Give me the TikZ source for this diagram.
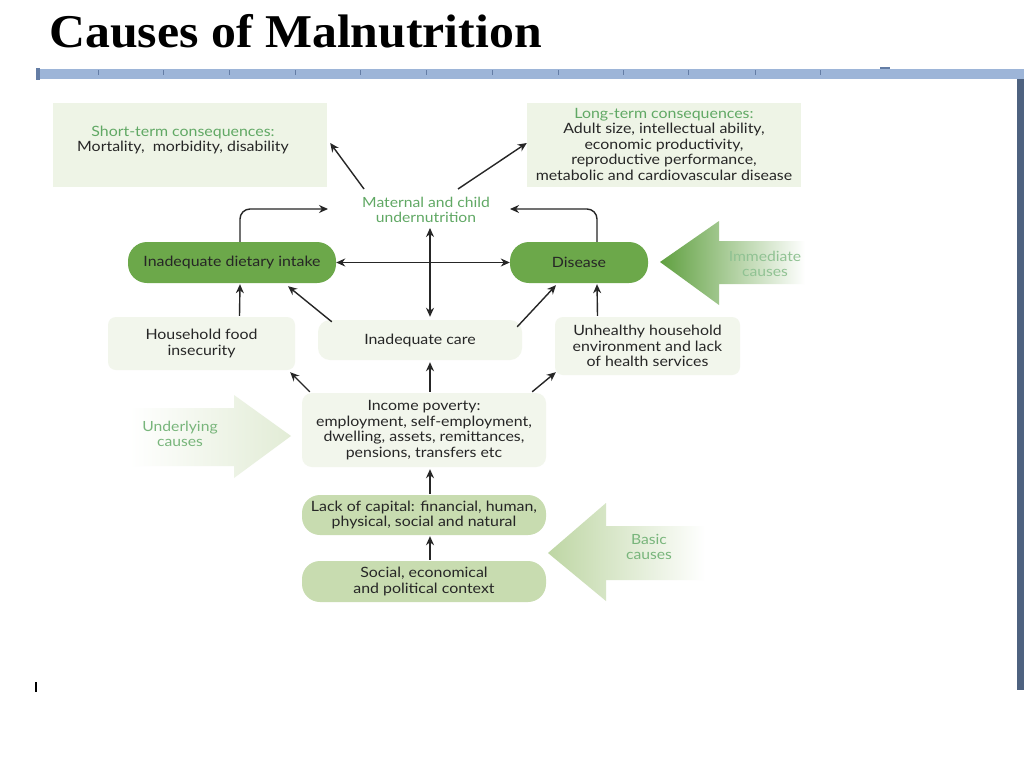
\documentclass[tikz,border=0pt]{standalone}
\usepackage{fontspec}
\setmainfont{Liberation Serif}
\newfontfamily\titlefont[FakeStretch=1.06]{Liberation Serif}
\newfontfamily\dfont[FakeStretch=1.12]{Lato}
\usetikzlibrary{arrows.meta,calc}
\definecolor{rulerblue}{RGB}{157,181,216}
\definecolor{tickblue}{RGB}{100,125,165}
\definecolor{frameblue}{RGB}{78,98,128}
\definecolor{boxlight}{RGB}{238,244,230}
\definecolor{boxpale}{RGB}{242,246,236}
\definecolor{pillgreen}{RGB}{108,168,74}
\definecolor{sage}{RGB}{200,220,176}
\definecolor{txt}{RGB}{38,38,38}
\definecolor{lblgreen}{RGB}{96,168,100}
\definecolor{immgreen}{RGB}{96,160,64}
\definecolor{undgreen}{RGB}{226,236,214}
\definecolor{basgreen}{RGB}{190,214,164}
\tikzset{
  dtext/.style={font=\dfont\fontsize{14.2}{15.5}\selectfont, align=center, text=txt},
  lbox/.style={dtext, fill=boxlight, inner sep=0pt},
  pbox/.style={dtext, fill=boxpale, inner sep=0pt},
  pill/.style={dtext, fill=pillgreen, inner sep=0pt, rounded corners=19pt},
  sagepill/.style={dtext, fill=sage, inner sep=0pt, rounded corners=18pt},
  arr/.style={-{Stealth[length=9pt,width=8pt]}, line width=1.4pt, draw=black!85},
  darr/.style={{Stealth[length=9pt,width=8pt]}-{Stealth[length=9pt,width=8pt]}, line width=1.4pt, draw=black!85},
  lbl/.style={font=\dfont\fontsize{14}{15.5}\selectfont, align=center, text=lblgreen, inner sep=0pt},
}
\begin{document}
\begin{tikzpicture}[x=1pt,y=-1pt]
\useasboundingbox (0,0) rectangle (1024,768);
\fill[white] (0,0) rectangle (1024,768);
% title
\node[anchor=base west, inner sep=0pt, font=\titlefont\bfseries\fontsize{47}{55}\selectfont] (title) at (49,48) {Causes of Malnutrition};
% ruler and frame
\fill[rulerblue] (36,69) rectangle (1024,79);
\fill[tickblue] (36,68) rectangle (40,80);
\foreach \t in {98,163,229,295,360,426,492,558,623,688,755,820}
  \draw[tickblue, line width=0.8pt] (\t,70) -- (\t,75);
\fill[tickblue] (880,67) rectangle (890,69);
\fill[frameblue] (1017,79) rectangle (1024,690);
\draw[black, line width=1.2pt] (36,682) -- (36,692);
% big arrows
\shade[left color=immgreen, right color=white]
  (660,262) -- (719,221) -- (719,241) -- (805,241) -- (805,284) -- (719,284) -- (719,305) -- cycle;
\node[lbl, text=lblgreen!70] (imm) at (765,264) {Immediate\\causes};
\shade[left color=white, right color=undgreen]
  (130,408) -- (234,408) -- (234,395) -- (291,436) -- (234,478) -- (234,466) -- (130,466) -- cycle;
\node[lbl, text=lblgreen!85] (und) at (180,434) {Underlying\\causes};
\shade[left color=basgreen, right color=white]
  (548,553) -- (606,503) -- (606,526) -- (705,526) -- (705,580) -- (606,580) -- (606,601) -- cycle;
\node[lbl, text=lblgreen!85] (bas) at (649,547) {Basic\\causes};
% boxes
\node[lbox, minimum width=274pt, minimum height=84pt] (short) at (190,145) {};
\node[dtext, inner sep=0pt] (shorttxt) at (183,140) {\textcolor{lblgreen}{Short-term consequences:}\\Mortality,~ morbidity, disability};
\node[lbox, minimum width=274pt, minimum height=84pt] (long) at (664,145) {};
\node[dtext, inner sep=0pt] (longtxt) at (664,144) {\textcolor{lblgreen}{Long-term consequences:}\\Adult size, intellectual ability,\\economic productivity,\\reproductive performance,\\metabolic and cardiovascular disease};
\node[lbl] (maternal) at (426,210) {Maternal and child\\undernutrition};
\node[pill, minimum width=208pt, minimum height=41pt] (diet) at (232,262.5) {Inadequate dietary intake};
\node[pill, minimum width=138pt, minimum height=41pt] (disease) at (579,262.5) {Disease};
\node[pbox, rounded corners=8pt, minimum width=187pt, minimum height=53pt] (hfood) at (201.5,343.5) {Household food\\insecurity};
\node[pbox, rounded corners=12pt, minimum width=204pt, minimum height=40pt] (care) at (420,340) {Inadequate care};
\node[pbox, rounded corners=8pt, minimum width=185pt, minimum height=58pt] (unhealthy) at (647.5,346) {Unhealthy household\\environment and lack\\of health services};
\node[pbox, rounded corners=10pt, minimum width=244pt, minimum height=74pt] (income) at (424,430) {Income poverty:\\employment, self-employment,\\dwelling, assets, remittances,\\pensions, transfers etc};
\node[sagepill, minimum width=244pt, minimum height=40pt] (capital) at (424,515) {Lack of capital: financial, human,\\physical, social and natural};
\node[sagepill, minimum width=244pt, minimum height=41pt] (social) at (424,581.5) {Social, economical\\and political context};
% connectors
\draw[arr] ([shift={(-62,-21)}]maternal.center) -- ([shift={(3,-2)}]short.east);
\draw[arr] ([shift={(32,-21)}]maternal.center) -- ([shift={(0,-2)}]long.west);
\draw[arr, rounded corners=10pt] ([shift={(8,0)}]diet.north) |- ([shift={(-98,-1)}]maternal.center);
\draw[arr, rounded corners=10pt] ([shift={(18,0)}]disease.north) |- ([shift={(84,-1)}]maternal.center);
\draw[darr] (diet.east) -- (disease.west);
\draw[darr] ([shift={(4,18)}]maternal.center) -- ([shift={(10,-3)}]care.north);
\draw[arr] ([shift={(38,-1)}]hfood.north) -- ([shift={(8,1)}]diet.south);
\draw[arr] ([shift={(14,2)}]care.north west) -- ([shift={(56,3)}]diet.south);
\draw[arr] ([shift={(-5,7)}]care.north east) -- ([shift={(-23,2)}]disease.south);
\draw[arr] ([shift={(-50,-1)}]unhealthy.north) -- ([shift={(18,1)}]disease.south);
\draw[arr] ([shift={(8,-1)}]income.north west) -- ([shift={(-5,2)}]hfood.south east);
\draw[arr] ([shift={(6,-1)}]income.north) -- ([shift={(10,2)}]care.south);
\draw[arr] ([shift={(-14,-1)}]income.north east) -- ([shift={(1,-3)}]unhealthy.south west);
\draw[arr] ([shift={(6,-1)}]capital.north) -- ([shift={(6,2)}]income.south);
\draw[arr] ([shift={(6,-1)}]social.north) -- ([shift={(6,1)}]capital.south);
\end{tikzpicture}
\end{document}
